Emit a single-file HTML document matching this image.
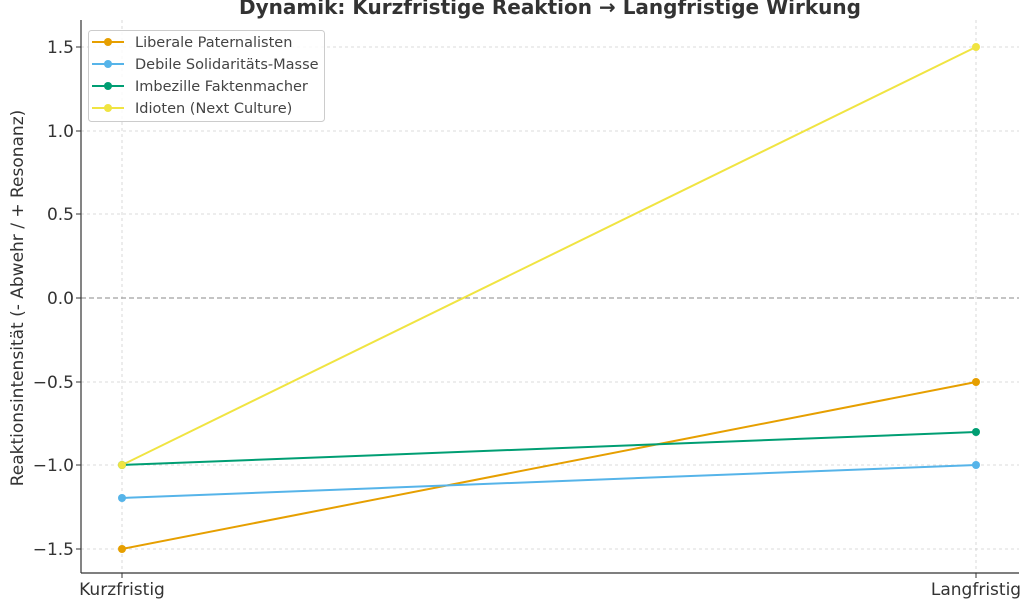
<!DOCTYPE html>
<html><head><meta charset="utf-8"><style>body{margin:0;background:#fff}svg{display:block}text{font-family:"DejaVu Sans","Liberation Sans",sans-serif}</style></head><body>
<svg width="1024" height="602" viewBox="0 0 1024 602">
<text x="550" y="14" text-anchor="middle" font-size="20" font-weight="bold" fill="#333">Dynamik: Kurzfristige Reaktion → Langfristige Wirkung</text>
<g stroke="#d0d0d0" stroke-dasharray="3,3" stroke-width="0.8">
<line x1="81" x2="1019" y1="47" y2="47"/><line x1="81" x2="1019" y1="131" y2="131"/><line x1="81" x2="1019" y1="214" y2="214"/><line x1="81" x2="1019" y1="382" y2="382"/><line x1="81" x2="1019" y1="465" y2="465"/><line x1="81" x2="1019" y1="549" y2="549"/>
<line x1="122" x2="122" y1="20" y2="573"/><line x1="976" x2="976" y1="20" y2="573"/>
</g>
<line x1="81" x2="1019" y1="298" y2="298" stroke="#888" stroke-dasharray="5,3" stroke-width="1"/>
<g stroke="#333" stroke-width="1.2"><line x1="81" y1="20" x2="81" y2="573"/><line x1="81" y1="573" x2="1019" y2="573"/></g>
<g fill="#333" font-size="17" text-anchor="end">
<text x="74" y="53">1.5</text><text x="74" y="137">1.0</text><text x="74" y="220">0.5</text><text x="74" y="304">0.0</text><text x="74" y="388">−0.5</text><text x="74" y="471">−1.0</text><text x="74" y="555">−1.5</text>
</g>
<g stroke="#333"><line x1="76" x2="81" y1="47" y2="47"/><line x1="76" x2="81" y1="131" y2="131"/><line x1="76" x2="81" y1="214" y2="214"/><line x1="76" x2="81" y1="298" y2="298"/><line x1="76" x2="81" y1="382" y2="382"/><line x1="76" x2="81" y1="465" y2="465"/><line x1="76" x2="81" y1="549" y2="549"/><line x1="122" x2="122" y1="573" y2="578"/><line x1="976" x2="976" y1="573" y2="578"/></g>
<text x="122" y="595" font-size="17" fill="#333" text-anchor="middle">Kurzfristig</text>
<text x="976" y="595" font-size="17" fill="#333" text-anchor="middle">Langfristig</text>
<text transform="translate(23,298) rotate(-90)" font-size="17" fill="#333" text-anchor="middle">Reaktionsintensität (- Abwehr / + Resonanz)</text>
<g stroke-width="2">
<line x1="122" y1="465" x2="976" y2="47" stroke="#f0e442"/>
<line x1="122" y1="549" x2="976" y2="382" stroke="#e69f00"/>
<line x1="122" y1="498" x2="976" y2="465" stroke="#56b4e9"/>
<line x1="122" y1="465" x2="976" y2="432" stroke="#009e73"/>
</g>
<circle cx="122" cy="549" r="4" fill="#e69f00"/><circle cx="976" cy="382" r="4" fill="#e69f00"/>
<circle cx="122" cy="498" r="4" fill="#56b4e9"/><circle cx="976" cy="465" r="4" fill="#56b4e9"/>
<circle cx="976" cy="432" r="4" fill="#009e73"/><circle cx="122" cy="465" r="4" fill="#009e73"/>
<circle cx="122" cy="465" r="4" fill="#f0e442"/><circle cx="976" cy="47" r="4" fill="#f0e442"/>
<rect x="88.5" y="30.5" width="236" height="91" rx="3" fill="#fff" fill-opacity="0.85" stroke="#ccc"/>
<g font-size="14.5" fill="#444">
<line x1="92" x2="124" y1="42" y2="42" stroke="#e69f00" stroke-width="2"/><circle cx="108" cy="42" r="4" fill="#e69f00"/><text x="135" y="47">Liberale Paternalisten</text>
<line x1="92" x2="124" y1="64" y2="64" stroke="#56b4e9" stroke-width="2"/><circle cx="108" cy="64" r="4" fill="#56b4e9"/><text x="135" y="69">Debile Solidaritäts-Masse</text>
<line x1="92" x2="124" y1="86" y2="86" stroke="#009e73" stroke-width="2"/><circle cx="108" cy="86" r="4" fill="#009e73"/><text x="135" y="91">Imbezille Faktenmacher</text>
<line x1="92" x2="124" y1="108" y2="108" stroke="#f0e442" stroke-width="2"/><circle cx="108" cy="108" r="4" fill="#f0e442"/><text x="135" y="113">Idioten (Next Culture)</text>
</g>
</svg>
</body></html>
